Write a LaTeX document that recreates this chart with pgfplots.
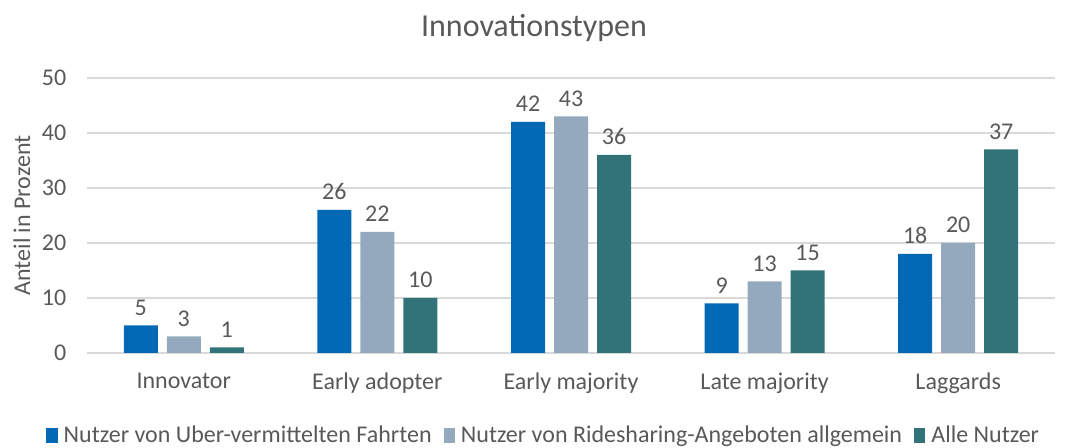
\documentclass[border=0pt]{standalone}
\usepackage{pgfplots}
\pgfplotsset{compat=1.18}
\usepackage{fontspec}
\setmainfont{Carlito}
\definecolor{cA}{HTML}{0068B5}
\definecolor{cB}{HTML}{95A9BE}
\definecolor{cC}{HTML}{32737A}
\definecolor{txt}{HTML}{595959}
\definecolor{gridc}{HTML}{D9D9D9}
\begin{document}
\begin{tikzpicture}
\begin{axis}[
  scale only axis,
  width=726pt, height=206.25pt,
  ybar=6.75pt, bar width=25.5pt,
  xmin=-0.5, xmax=4.5, ymin=0, ymax=50,
  ytick={0,10,20,30,40,50},
  xtick=data,
  xticklabels={Innovator,Early adopter,Early majority,Late majority,Laggards},
  axis x line*=bottom, axis y line*=left,
  x axis line style={gridc, line width=0.8pt},
  y axis line style={draw=none},
  ymajorgrids, grid style={gridc, line width=0.8pt},
  major tick length=0pt,
  tick label style={font=\fontsize{18}{21}\selectfont, text=txt},
  yticklabel style={xshift=-12pt},
  xticklabel style={yshift=-11.5pt},
  /pgf/number format/assume math mode=true,
  clip=false,
  nodes near coords,
  every node near coord/.append style={font=\fontsize{18}{21}\selectfont, text=txt, yshift=4pt},
  legend style={at={(rel axis cs:0.4715,0)}, anchor=center, yshift=-62pt, draw=none, legend columns=3,
    font=\fontsize{18}{21}\selectfont, text=txt,
    /tikz/every odd column/.append style={column sep=3.5pt},
    /tikz/every even column/.append style={column sep=8pt},
    inner sep=0pt, nodes={inner sep=1pt}},
  legend image code/.code={\fill[#1] (0pt,-5.5pt) rectangle (8.5pt,5.5pt);},
  legend cell align=left,
]
\addplot[fill=cA, draw=none] coordinates {(0,5) (1,26) (2,42) (3,9) (4,18)};
\addplot[fill=cB, draw=none] coordinates {(0,3) (1,22) (2,43) (3,13) (4,20)};
\addplot[fill=cC, draw=none] coordinates {(0,1) (1,10) (2,36) (3,15) (4,37)};
\legend{Nutzer von Uber-vermittelten Fahrten,Nutzer von Ridesharing-Angeboten allgemein,Alle Nutzer}
\node[font=\fontsize{24}{28}\selectfont, text=txt] at (rel axis cs:0.4618,1) [yshift=37.5pt] {Innovationstypen};
\node[font=\fontsize{18}{21}\selectfont, text=txt, xshift=-48.75pt, rotate=90] at (rel axis cs:0,0.5) {Anteil in Prozent};
\end{axis}
\pgfresetboundingbox
\path ([xshift=-65.25pt,yshift=-71.25pt]current axis.south west) rectangle ([xshift=9.75pt,yshift=58.5pt]current axis.north east);
\end{tikzpicture}
\end{document}
